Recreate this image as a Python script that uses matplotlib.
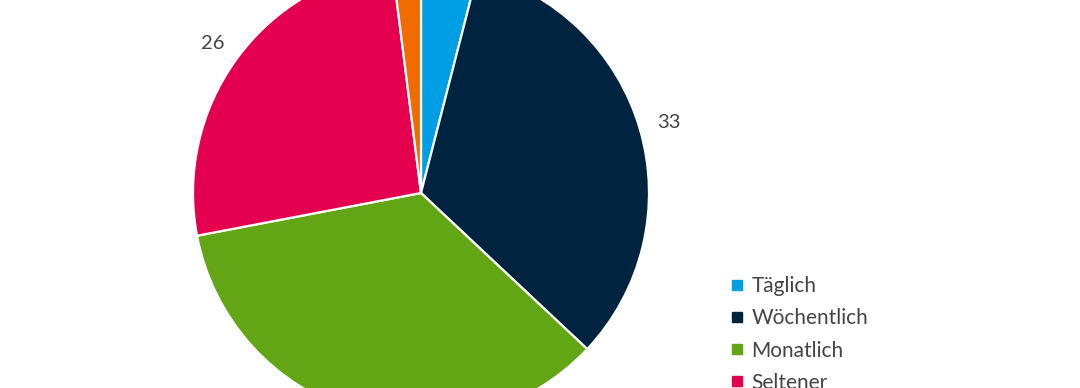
import matplotlib.pyplot as plt
from matplotlib.lines import Line2D

kategorien = ['Täglich', 'Wöchentlich', 'Monatlich', 'Seltener', 'Nie']
werte = [4, 33, 35, 26, 2]
beschriftung = ['', '33', '', '26', '']
farben = ['#009fe3', '#002340', '#62a515', '#e4004f', '#f06b00']

plt.rcParams['font.family'] = ['Lato', 'DejaVu Sans']

fig = plt.figure(figsize=(10.8, 3.88), dpi=100)
ax = fig.add_axes([0, 0, 1, 1])

wedges, texts = ax.pie(werte, labels=beschriftung, colors=farben, startangle=90, counterclock=False,
                       center=(421, 195), radius=228, labeldistance=1.13,
                       wedgeprops={'edgecolor': 'white', 'linewidth': 1.6},
                       textprops={'fontsize': 14.5, 'color': '#444444'})
# zentrierte Beschriftung (Mitte liegt nicht im Ursprung)
for t in texts:
    t.set_ha('center')
    t.set_va('center_baseline')

ax.set_xlim(0, 1080)
ax.set_ylim(0, 388)
ax.set_aspect('equal')
ax.axis('off')

handles = [Line2D([], [], marker='s', linestyle='', markersize=7, color=f) for f in farben]
ax.legend(handles, kategorien, loc='upper left', bbox_to_anchor=(718 / 1080, 1 - 266 / 388),
          frameon=False, fontsize=15, labelcolor='#444444', handlelength=0.8,
          handletextpad=0.3, labelspacing=0.58, borderpad=0)

fig.savefig('out.png', dpi=100)
